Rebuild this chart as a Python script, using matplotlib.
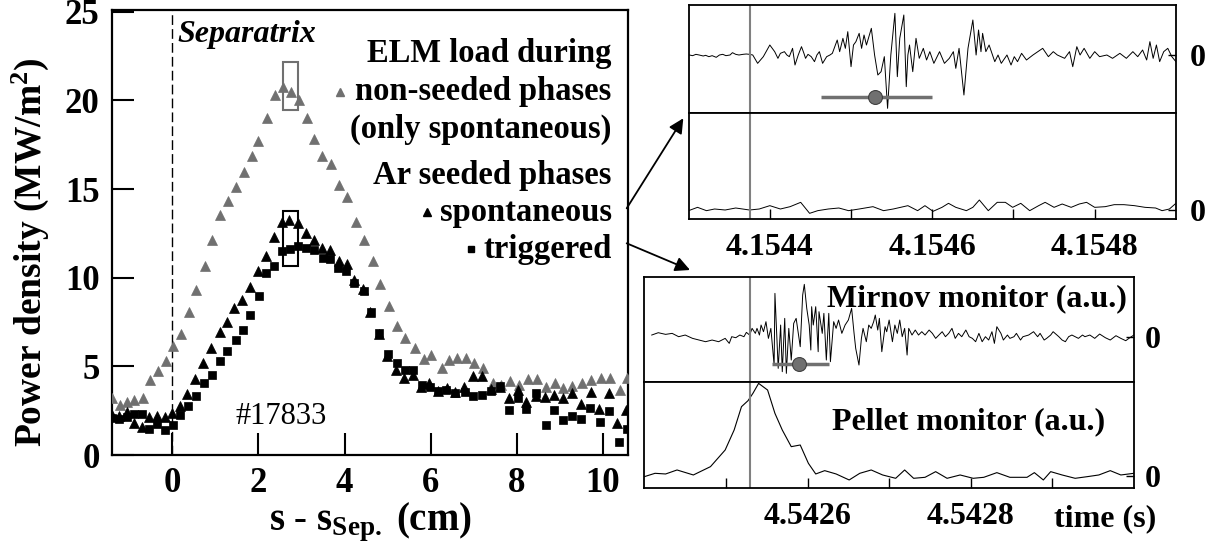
import numpy as np
import matplotlib
matplotlib.use('Agg')
import matplotlib.pyplot as plt
from matplotlib.patches import Rectangle, FancyArrowPatch

plt.rcParams['font.family'] = ['Liberation Serif', 'DejaVu Serif']
plt.rcParams['font.weight'] = 'bold'
plt.rcParams['axes.labelweight'] = 'bold'
plt.rcParams['mathtext.fontset'] = 'custom'
plt.rcParams['mathtext.rm'] = 'Liberation Serif:bold'
plt.rcParams['mathtext.bf'] = 'Liberation Serif:bold'
plt.rcParams['mathtext.it'] = 'Liberation Serif:bold:italic'

GREY = '#707070'

# ## ELM power load profiles (#17833), s - s_sep in cm, MW/m^2
x_grey = [-1.39, -1.21, -1.05, -0.88, -0.68, -0.51, -0.33, -0.15, 0.02, 0.20,
          0.39, 0.55, 0.75, 0.93, 1.10, 1.30, 1.47, 1.66, 1.84, 2.00,
          2.19, 2.38, 2.56, 2.75, 2.94, 3.13, 3.30, 3.48, 3.68, 3.88,
          4.06, 4.26, 4.44, 4.65, 4.83, 5.03, 5.22, 5.41, 5.64, 5.84,
          6.01, 6.26, 6.42, 6.62, 6.81, 7.01, 7.22, 7.44, 7.63, 7.85,
          8.06, 8.26, 8.46, 8.67, 8.88, 9.07, 9.29, 9.51, 9.73, 9.96,
          10.17, 10.39, 10.56]
y_grey = [3.19, 2.84, 2.99, 3.09, 3.19, 4.23, 4.71, 5.32, 6.14, 6.81,
          8.05, 9.33, 10.67, 12.12, 13.53, 14.35, 15.10, 15.97, 16.87, 17.69,
          18.99, 20.30, 20.78, 20.46, 20.02, 18.99, 17.84, 16.89, 16.39, 15.25,
          14.54, 13.16, 12.10, 10.97, 9.62, 8.42, 7.25, 6.59, 6.03, 5.41,
          5.63, 4.92, 5.37, 5.48, 5.48, 5.18, 4.90, 4.08, 3.95, 4.18,
          3.95, 4.31, 4.31, 3.86, 4.05, 3.77, 3.90, 4.05, 4.24, 4.33,
          4.33, 3.67, 4.33]

x_spont = [-1.41, -1.24, -1.06, -0.89, -0.71, -0.54, -0.35, -0.17, 0.00, 0.19,
           0.35, 0.52, 0.71, 0.89, 1.10, 1.27, 1.43, 1.62, 1.81, 1.99,
           2.18, 2.37, 2.55, 2.72, 2.91, 3.10, 3.29, 3.48, 3.67, 3.86,
           4.05, 4.23, 4.43, 4.60, 4.80, 4.99, 5.19, 5.38, 5.58, 5.77,
           5.97, 6.17, 6.37, 6.57, 6.78, 6.97, 7.18, 7.41, 7.61, 7.82,
           8.03, 8.22, 8.44, 8.65, 8.86, 9.06, 9.27, 9.48, 9.71, 9.91,
           10.13, 10.32, 10.54]
y_spont = [2.26, 2.20, 2.45, 1.83, 1.60, 2.13, 2.20, 2.16, 2.36, 2.77,
           3.45, 4.29, 5.21, 6.03, 6.91, 7.53, 8.30, 8.72, 9.45, 10.36,
           11.20, 12.28, 13.15, 13.28, 13.09, 12.53, 12.15, 11.68, 11.58, 10.92,
           10.75, 9.88, 9.36, 8.05, 6.85, 5.57, 4.81, 4.33, 4.52, 3.85,
           4.05, 3.60, 3.80, 3.55, 3.82, 4.48, 4.47, 3.70, 3.85, 3.20,
           3.67, 3.01, 3.30, 3.29, 3.39, 3.20, 3.49, 2.88, 3.58, 2.60,
           3.52, 1.82, 2.54]

x_trig = [-1.41, -1.24, -1.06, -0.89, -0.71, -0.53, -0.35, -0.17, 0.01, 0.19,
          0.37, 0.56, 0.74, 0.93, 1.10, 1.28, 1.47, 1.64, 1.81, 2.01,
          2.18, 2.37, 2.55, 2.74, 2.92, 3.11, 3.30, 3.50, 3.67, 3.85,
          4.03, 4.22, 4.44, 4.62, 4.81, 5.00, 5.21, 5.41, 5.58, 5.79,
          5.99, 6.17, 6.36, 6.56, 6.79, 6.99, 7.19, 7.41, 7.61, 7.82,
          8.03, 8.21, 8.44, 8.67, 8.86, 9.07, 9.27, 9.48, 9.70, 9.93,
          10.15, 10.36, 10.56]
y_trig = [2.07, 2.02, 2.13, 2.32, 2.32, 1.45, 1.75, 1.41, 1.69, 2.26,
          2.77, 3.33, 4.05, 4.52, 5.31, 5.89, 6.46, 7.06, 7.87, 8.98,
          10.27, 10.68, 11.49, 11.62, 11.81, 11.68, 11.58, 11.11, 11.07, 10.55,
          10.36, 9.70, 9.23, 8.04, 6.88, 5.67, 5.19, 4.81, 4.81, 3.95,
          3.85, 3.60, 3.66, 3.50, 3.57, 3.30, 3.40, 3.63, 3.90, 2.54,
          3.20, 2.60, 3.52, 1.69, 2.54, 1.98, 2.22, 2.03, 2.64, 1.88,
          2.49, 0.72, 1.45]

# time windows of the two examples (s) and box around the peak bin
t0_spont = 4.1543
t0_trig = 4.5424
peak_box = (2.57, 2.91)

# ## Time traces: (microseconds after window start, signal a.u.)
mirnov_spont = [
    (1, 0.0), (5, -0.2), (9, 0.2), (13, 0.0), (18, -0.3), (21, -0.1), (25, -0.5),
    (29, -0.2), (34, -0.7), (38, 0.0), (42, 0.2), (46, -0.2), (51, 0.0), (54, 0.7),
    (58, 0.2), (62, 0.0), (67, 0.2), (71, 0.3), (75, 0.2), (79, 0.0), (85, -2.5),
    (92, -0.5), (100, 3.0), (106, 1.0), (110, -1.0), (113, 0.5), (118, 1.0), (121, 0.0),
    (124, -0.5), (128, 2.0), (131, -3.0), (135, 0.0), (139, 2.5), (142, 0.5), (144, -1.0),
    (147, 0.2), (151, -0.5), (155, -2.0), (158, 0.0), (161, 1.0), (165, -2.5), (170, -0.5),
    (174, 0.0), (177, 0.5), (183, 4.5), (186, 1.0), (190, 5.0), (193, 2.0), (196, 7.0),
    (200, -3.5), (203, 3.0), (206, 4.0), (210, 6.5), (213, 2.0), (216, 6.0), (219, 3.0),
    (225, 8.0), (229, 0.0), (233, -6.0), (237, -5.0), (241, -0.5), (245, -16.0), (249, 0.0),
    (254, 12.5), (257, -6.5), (260, 5.0), (265, 12.0), (268, -9.5), (270, 0.0), (272, 3.0),
    (276, -5.0), (280, 5.0), (284, -1.0), (289, 2.0), (293, -1.5), (297, 1.0), (302, -2.5),
    (309, 1.0), (315, -2.5), (321, -1.0), (326, 1.0), (329, -4.0), (333, 2.0), (339, -12.0),
    (344, 2.0), (350, 10.5), (354, 0.0), (357, 7.5), (360, 1.0), (362, 6.5), (366, 1.0),
    (370, 3.0), (377, -2.0), (381, 0.0), (385, -2.5), (392, 0.0), (397, -3.0), (401, -0.5),
    (405, -2.0), (410, 0.5), (416, -1.5), (424, 0.0), (436, 2.0), (443, -0.5), (449, 1.0),
    (454, 0.0), (463, -1.0), (469, 1.0), (473, -3.5), (478, 2.5), (482, 0.0), (487, 2.0),
    (494, -1.0), (500, 1.0), (506, -0.5), (515, 0.0), (522, -1.0), (531, 0.5), (539, -1.0),
    (547, 1.0), (553, -0.5), (559, 1.5), (564, -1.5), (568, 4.0), (572, -1.0), (576, 3.0),
    (580, -2.0), (585, 1.0), (590, 2.0), (595, -0.5), (600, -2.0)]

pellet_spont = [
    (0, -0.2), (11, 0.8), (22, -0.2), (32, 0.3), (45, 0.0), (58, 0.6), (75, 0.0),
    (87, 0.3), (100, 1.3), (113, 0.3), (125, 1.0), (138, 2.3), (149, -1.0), (159, -0.2),
    (172, 0.3), (185, 0.6), (197, -0.2), (210, 0.3), (227, 1.0), (240, -0.2), (252, 0.3),
    (270, 1.3), (282, -0.2), (291, 1.3), (301, -0.4), (312, 0.8), (320, 2.0), (329, 0.8),
    (342, -0.2), (350, 0.8), (358, 3.0), (369, -0.2), (380, 2.3), (390, 2.3), (399, 0.8),
    (409, 2.0), (420, -0.2), (431, 1.3), (439, 2.3), (450, 0.8), (460, 1.8), (471, 0.8),
    (481, 1.8), (490, 2.3), (500, 0.8), (513, 1.0), (524, 1.6), (536, 1.6), (549, 1.3),
    (562, 0.8), (575, 0.6), (583, -0.2), (592, 0.3), (600, 2.0)]

mirnov_trig = [
    (9, 0.5), (17, 1.2), (26, 0.7), (34, 1.0), (42, 0.0), (50, 0.5), (59, -0.5),
    (67, -1.0), (75, -1.5), (83, -1.0), (91, -1.5), (99, -0.5), (104, -2.0), (107, 0.0),
    (112, -0.3), (117, 0.5), (122, 0.0), (125, 1.3), (129, 0.5), (132, 2.5), (136, 1.0),
    (138, 2.5), (141, 0.5), (143, 3.5), (146, 1.5), (149, 4.5), (152, -0.5), (155, 2.5),
    (159, -8.5), (160, 13.0), (164, -9.5), (167, 3.5), (169, -10.5), (172, 5.5), (174, -11.0),
    (177, 2.5), (180, -7.0), (183, 4.0), (186, 5.5), (191, -3.0), (194, 12.5), (196, 15.7),
    (199, 8.5), (202, 3.5), (204, -4.0), (205, 9.0), (207, 3.5), (210, 9.0), (213, -4.5),
    (214, 7.5), (218, 1.0), (220, 7.0), (223, -7.0), (226, 7.0), (228, -7.5), (232, 4.5),
    (235, 2.5), (238, 5.0), (242, 1.0), (246, 3.5), (250, 5.0), (254, 8.5), (257, 1.0),
    (259, -3.5), (263, -8.5), (266, -0.5), (268, 2.5), (272, -1.5), (275, 3.5), (278, 2.5),
    (281, 4.5), (283, 6.5), (286, 2.0), (288, 5.5), (291, -4.5), (295, 3.0), (297, 1.5),
    (300, 5.0), (304, -1.5), (307, 3.5), (310, 1.0), (313, 5.0), (316, 0.0), (319, 2.5),
    (322, -5.5), (324, 2.5), (328, 0.5), (332, 2.0), (336, 0.5), (340, 1.5), (344, 0.5),
    (349, 2.0), (353, 1.0), (357, -0.5), (361, 0.5), (365, 1.5), (369, 0.0), (373, 1.0),
    (377, 2.5), (381, -0.5), (385, 1.0), (389, 0.0), (394, 2.0), (398, 0.0), (402, -0.5),
    (406, -1.5), (410, 1.0), (414, -1.5), (418, 0.0), (422, -1.0), (426, 1.5), (429, -2.0),
    (432, 3.0), (437, 1.0), (440, -1.0), (445, 0.5), (448, -0.5), (453, 0.0), (456, 1.0),
    (461, -1.0), (464, 0.0), (471, 0.5), (477, 1.5), (482, 0.0), (485, 1.0), (490, -1.0),
    (493, -0.5), (498, 0.5), (501, 1.5), (508, 0.0), (512, -1.0), (516, -1.5), (520, 0.0),
    (524, 0.5), (528, 0.0), (532, -0.5), (537, 0.5), (540, 0.0), (546, 0.5), (552, -0.5),
    (558, 0.8), (565, -0.3), (571, -1.0), (578, 0.3), (584, -0.5), (590, -1.2), (595, -0.3),
    (600, 0.5)]

pellet_trig = [
    (0, -0.3), (13, 0.7), (26, 0.5), (40, 1.7), (60, 0.2), (81, 2.7),
    (99, 7.7), (110, 13.7), (119, 20.7), (127, 22.5), (133, 24.7), (140, 27.7), (151, 25.7),
    (160, 18.7), (169, 13.7), (180, 8.7), (191, 9.2), (201, 3.7), (210, 0.5), (221, 1.5),
    (235, 0.5), (251, -1.3), (264, 0.7), (278, 1.7), (292, 0.2), (308, -0.8), (319, 1.7),
    (330, -0.8), (344, -0.5), (357, 1.2), (371, -0.8), (387, 0.2), (403, -0.8), (416, -0.5),
    (432, 0.9), (448, -0.5), (469, -0.5), (478, 0.9), (489, -1.3), (498, 1.2), (512, 0.2),
    (528, -0.8), (543, -0.3), (557, 0.2), (571, 1.5), (584, 0.2), (600, 0.7)]

# ELM onset marker: (start, centre, end) in microseconds, level a.u.
elm_spont = (163, 230, 300, -12.5)
elm_trig = (156, 190, 226, -8.3)
# grey reference line, microseconds after window start
ref_spont = 75
ref_trig = 129


fig = plt.figure(figsize=(12.2, 5.54), dpi=100)

# ## Main profile plot
ax = fig.add_axes([112 / 1220, 99 / 554, 516 / 1220, 445 / 554])
ax.plot(x_grey, y_grey, '^', color=GREY, ms=7.5, mec=GREY, mew=0.5, zorder=3)
ax.plot(x_spont, y_spont, '^', color='k', ms=7.5, mec='k', mew=0.5, zorder=4)
ax.plot(x_trig, y_trig, 's', color='k', ms=5.5, mec='k', mew=0.5, zorder=5)
ax.axvline(0, color='k', lw=1.0, dashes=(7, 3))
ax.add_patch(Rectangle((peak_box[0], 19.45), peak_box[1] - peak_box[0], 2.7,
                       fill=False, ec=GREY, lw=1.5, zorder=6))
ax.add_patch(Rectangle((peak_box[0], 10.65), peak_box[1] - peak_box[0], 3.1,
                       fill=False, ec='k', lw=1.5, zorder=6))

ax.set_xlim(-1.4, 10.58)
ax.set_ylim(0, 25.1)
ax.set_xticks([0, 2, 4, 6, 8, 10])
ax.set_yticks([0, 5, 10, 15, 20, 25])
ax.tick_params(direction='in', length=16, width=1.5, labelsize=25, pad=9,
               top=False, right=False)
for s in ax.spines.values():
    s.set_linewidth(1.6)
ax.set_xlabel(r's - s$_{\mathbf{Sep.}}$ (cm)', fontsize=28, labelpad=0)
ax.set_ylabel(r'Power density (MW/m$^{\mathbf{2}}$)', fontsize=27)
ax.yaxis.set_label_coords(-0.118, 0.455)

ax.text(0.12, 23.3, 'Separatrix', fontsize=23, style='italic', weight='bold')
ax.text(1.47, 1.75, '#17833', fontsize=22, weight='normal')
legend_lines = ['ELM load during', 'non-seeded phases', '(only spontaneous)',
                'Ar seeded phases', 'spontaneous', 'triggered']
legend_y = [22.18, 20.0, 17.88, 15.31, 13.22, 11.13]
for txt, yy in zip(legend_lines, legend_y):
    ax.text(10.2, yy, txt, fontsize=23.5, ha='right', va='baseline')
ax.plot(3.90, 20.5, '^', color=GREY, mec=GREY, ms=6)
ax.plot(5.92, 13.73, '^', color='k', ms=6)
ax.plot(6.93, 11.62, 's', color='k', ms=5)


def panel(rect, trace, t0, ylim, pad0, lw=0.7):
    a = fig.add_axes(rect)
    us = np.array([p[0] for p in trace])
    val = [p[1] for p in trace]
    a.plot(t0 + us * 1e-6, val, color='k', lw=lw)
    a.set_xlim(t0, t0 + 600e-6)
    a.set_ylim(*ylim)
    a.yaxis.tick_right()
    a.set_yticks([0])
    a.set_yticklabels(['0'])
    a.tick_params(axis='y', direction='in', length=6, width=1, labelsize=23, pad=pad0)
    a.tick_params(axis='x', direction='in', length=7, width=1, labelsize=23, pad=10)
    for s in a.spines.values():
        s.set_linewidth(1.3)
    return a


# ## Spontaneous ELM example (top right)
a1 = panel([688.6 / 1220, 441 / 554, 487.3 / 1220, 108 / 554], mirnov_spont,
           t0_spont, (-17.4, 15), 10)
a2 = panel([688.6 / 1220, 335 / 554, 487.3 / 1220, 106 / 554], pellet_spont,
           t0_spont, (-2.7, 29.1), 10)
a1.plot([t0_spont + elm_spont[0] * 1e-6, t0_spont + elm_spont[2] * 1e-6],
        [elm_spont[3]] * 2, color=GREY, lw=2.5, solid_capstyle='butt')
a1.plot(t0_spont + elm_spont[1] * 1e-6, elm_spont[3], 'o', ms=10, mfc=GREY, mec='#404040', mew=0.8)
for a in (a1, a2):
    a.axvline(t0_spont + ref_spont * 1e-6, color='#808080', lw=1.5)
a1.tick_params(axis='x', bottom=False, labelbottom=False)
a2.set_xticks([4.1544, 4.1545, 4.1546, 4.1547, 4.1548])
a2.set_xticklabels(['4.1544', '', '4.1546', '', '4.1548'])

# ## Pellet triggered ELM example (bottom right)
b1 = panel([644.4 / 1220, 172.3 / 554, 489.5 / 1220, 105 / 554], mirnov_trig,
           t0_trig, (-13.5, 18), 8)
b2 = panel([644.4 / 1220, 65.7 / 554, 489.5 / 1220, 106.6 / 554], pellet_trig,
           t0_trig, (-3.8, 28.2), 8, lw=0.8)
b1.plot([t0_trig + elm_trig[0] * 1e-6, t0_trig + elm_trig[2] * 1e-6],
        [elm_trig[3]] * 2, color=GREY, lw=2.5, solid_capstyle='butt')
b1.plot(t0_trig + elm_trig[1] * 1e-6, elm_trig[3], 'o', ms=10, mfc=GREY, mec='#404040', mew=0.8)
for a in (b1, b2):
    a.axvline(t0_trig + ref_trig * 1e-6, color='#808080', lw=1.5)
b1.tick_params(axis='x', bottom=False, labelbottom=False)
b2.set_xticks([4.5425, 4.5426, 4.5427, 4.5428, 4.5429])
b2.set_xticklabels(['', '4.5426', '', '4.5428', ''])
b1.text(0.985, 0.72, 'Mirnov monitor (a.u.)', transform=b1.transAxes,
        fontsize=23, ha='right', va='baseline')
b2.text(0.942, 0.554, 'Pellet monitor (a.u.)', transform=b2.transAxes,
        fontsize=23, ha='right', va='baseline')
b2.text(0.837, -0.36, 'time (s)', transform=b2.transAxes,
        fontsize=23, ha='left', va='baseline')

# arrows from the legend to the example panels
for start, end in [((626.7, 208.3), (683.3, 118.3)), ((626.7, 243.3), (690.0, 270.0))]:
    fig.add_artist(FancyArrowPatch((start[0] / 1220, 1 - start[1] / 554),
                                   (end[0] / 1220, 1 - end[1] / 554),
                                   transform=fig.transFigure, arrowstyle='-|>',
                                   mutation_scale=22, lw=1.3, color='k',
                                   shrinkA=0, shrinkB=0))

fig.savefig('out.png', dpi=100)
